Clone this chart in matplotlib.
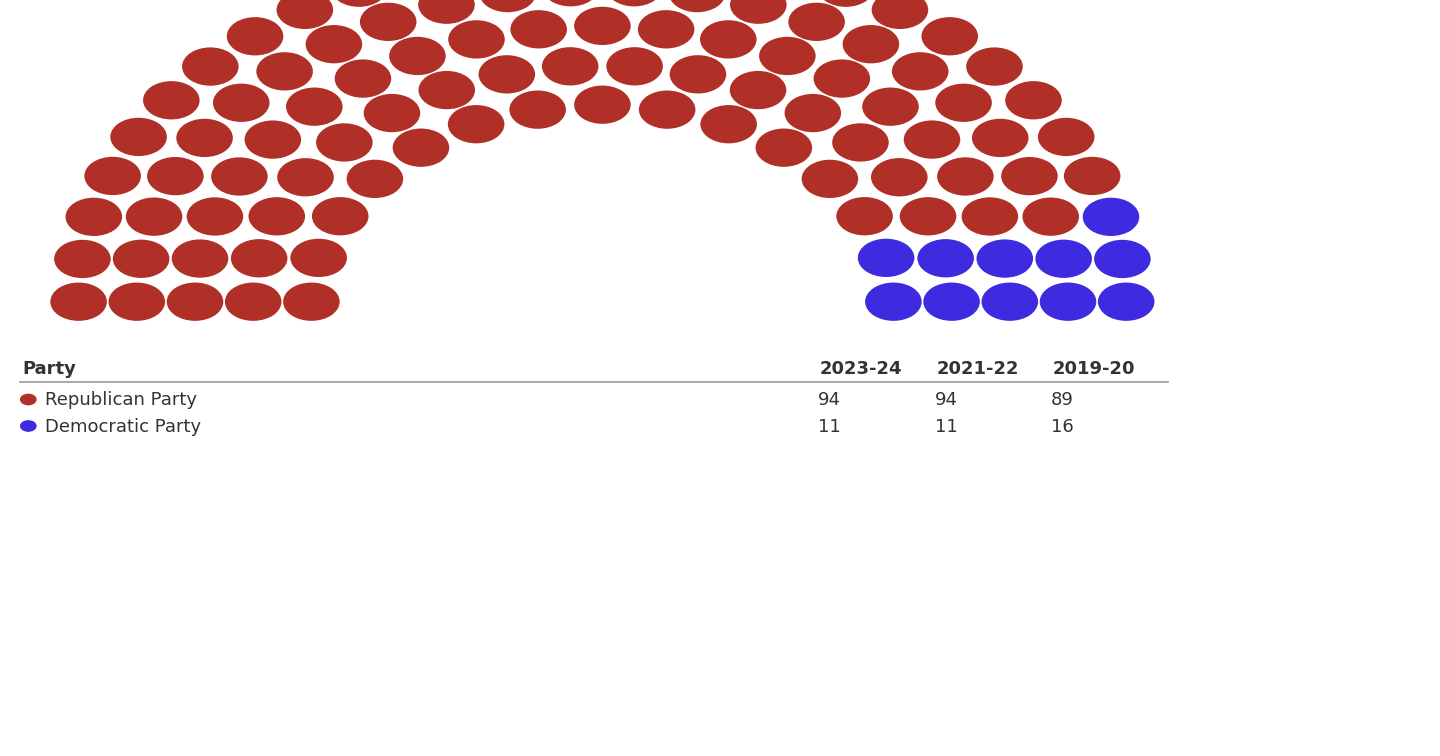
import matplotlib
matplotlib.use("Agg")
import matplotlib.pyplot as plt
from matplotlib.patches import Ellipse
import numpy as np

# table / legend data
parties = ["Republican Party", "Democratic Party"]
party_colors = ["#B03028", "#3E2ADF"]
years = ["2023-24", "2021-22", "2019-20"]
seats_by_year = {
    "2023-24": [94, 11],
    "2021-22": [94, 11],
    "2019-20": [89, 16],
}
current_year = "2023-24"

# hemicycle geometry (in seat-spacing units)
ring_radii = np.array([5.0, 6.0, 7.0, 8.0, 9.0])
seat_r = 0.486

W, H = 1440, 756
fig = plt.figure(figsize=(W / 100, H / 100), dpi=100)
ax = fig.add_axes([0, 0, 1, 1])
cx_px, cy_px, ux, uy = 602.4, 301.7, 58.2, 39.4
ax.set_xlim(-cx_px / ux, (W - cx_px) / ux)
ax.set_ylim((cy_px - H) / uy, cy_px / uy)
ax.axis("off")

total = sum(seats_by_year[current_year])
per_ring = np.round(total * ring_radii / ring_radii.sum()).astype(int)
per_ring[-1] += total - per_ring.sum()

seats = []
for r, n in zip(ring_radii, per_ring):
    for ang in np.linspace(0, np.pi, n):
        seats.append((ang, r))
# left side first -> first party
seats.sort(key=lambda s: (-s[0], s[1]))

colors = []
for p, c in zip(parties, party_colors):
    colors += [c] * seats_by_year[current_year][parties.index(p)]

for (ang, r), c in zip(seats, colors):
    ax.add_patch(Ellipse((r * np.cos(ang), r * np.sin(ang)), 2 * seat_r, 2 * seat_r,
                         facecolor=c, edgecolor="none"))


def fx(px):
    return px / W


def fy(py):
    return 1 - py / H


txt = "#333333"
fs = 13
fig.text(fx(22), fy(374), "Party", fontsize=fs, fontweight="bold", color=txt, va="baseline")
col_x = [820, 937, 1053]
for x, yr in zip(col_x, years):
    fig.text(fx(x), fy(374), yr, fontsize=fs, fontweight="bold", color=txt, va="baseline")
fig.add_artist(plt.Line2D([fx(20), fx(1168)], [fy(382), fy(382)], color="#9a9a9a", lw=1.2))

row_y = [405, 431.5]
for i, (p, c) in enumerate(zip(parties, party_colors)):
    y = row_y[i]
    fig.add_artist(Ellipse((fx(28.3), fy(y - 5.5)), 16.7 / W, 11.7 / H, facecolor=c,
                           edgecolor="none", transform=fig.transFigure))
    fig.text(fx(45), fy(y), p, fontsize=fs, color=txt, va="baseline")
    for x, yr in zip(col_x, years):
        fig.text(fx(x - 2), fy(y), str(seats_by_year[yr][i]), fontsize=fs, color=txt, va="baseline")

fig.savefig("out.png", dpi=100, facecolor="white")
